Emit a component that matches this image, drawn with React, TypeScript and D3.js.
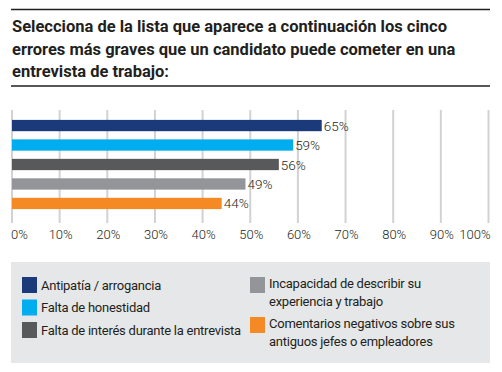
import * as d3 from "d3";
import { useRef, useEffect } from "react";

const categories = [
  "Antipatía / arrogancia",
  "Falta de honestidad",
  "Falta de interés durante la entrevista",
  "Incapacidad de describir su experiencia y trabajo",
  "Comentarios negativos sobre sus antiguos jefes o empleadores",
];
const values = [65, 59, 56, 49, 44];
const colors = ["#1b3a7a", "#00adef", "#58595b", "#939598", "#f58a24"];
const ticks = [0, 10, 20, 30, 40, 50, 60, 70, 80, 90, 100];
const titleLines = [
  "Selecciona de la lista que aparece a continuación los cinco",
  "errores más graves que un candidato puede cometer en una",
  "entrevista de trabajo:",
];
// legend text split into lines, per category
const legendLines = [
  ["Antipatía / arrogancia"],
  ["Falta de honestidad"],
  ["Falta de interés durante la entrevista"],
  ["Incapacidad de describir su", "experiencia y trabajo"],
  ["Comentarios negativos sobre sus", "antiguos jefes o empleadores"],
];

const W = 502;
const H = 372;
const FONT = "Roboto, sans-serif";

export default function App() {
  const gx = useRef<SVGGElement>(null);

  const x = d3.scaleLinear().domain([0, 100]).range([12, 488.5]);
  const y = d3
    .scaleBand()
    .domain(d3.range(values.length).map(String))
    .range([116, 213])
    .paddingInner(0.42)
    .paddingOuter(0.2);

  useEffect(() => {
    const g = d3.select(gx.current);
    g.selectAll("*").remove();
    g.selectAll("line")
      .data(ticks)
      .join("line")
      .attr("x1", (d) => x(d))
      .attr("x2", (d) => x(d))
      .attr("y1", 110)
      .attr("y2", 223)
      .attr("stroke", "#d1d2d4")
      .attr("stroke-width", 2);
    g.selectAll("text")
      .data(ticks)
      .join("text")
      .attr("x", (d) => (d === 0 ? x(d) - 1 : d === 100 ? x(d) + 2 : x(d) + 1))
      .attr("y", 239)
      .attr("text-anchor", (d) => (d === 0 ? "start" : d === 100 ? "end" : "middle"))
      .attr("font-family", FONT)
      .attr("font-weight", 300)
      .attr("font-size", 13)
      .attr("fill", "#231f20")
      .text((d) => d + "%");
  }, []);

  return (
    <svg
      width={W}
      height={H}
      style={{ position: "absolute", left: 0, top: 0, background: "#fff" }}
    >
      <line x1={11} x2={490} y1={9.5} y2={9.5} stroke="#231f20" strokeWidth={1.5} />
      <g fontFamily={FONT} fontWeight="bold" fontSize={16.5} fill="#231f20">
        {titleLines.map((t, i) => (
          <text key={i} x={12} y={32 + i * 22.5}>
            {t}
          </text>
        ))}
      </g>
      <line x1={11} x2={490} y1={86} y2={86} stroke="#231f20" strokeWidth={1.5} />

      <g ref={gx} />

      <g>
        {values.map((v, i) => (
          <g key={i}>
            <rect
              x={x(0)}
              y={y(String(i))}
              width={x(v) - x(0)}
              height={y.bandwidth()}
              fill={colors[i]}
            />
            <text
              x={x(v) + 2}
              y={(y(String(i)) as number) + y.bandwidth() / 2 + 5}
              fontFamily={FONT}
              fontWeight={300}
              fontSize={13.5}
              fill="#231f20"
            >
              {v}%
            </text>
          </g>
        ))}
      </g>

      <rect x={11} y={262} width={479} height={101} fill="#e6e7e8" />
      <g fontFamily={FONT} fontSize={13} letterSpacing={-0.25} fill="#231f20">
        {categories.map((c, i) => {
          const left = i < 3;
          const sx = left ? 22 : 250;
          const sy = left ? 277 + i * 22.5 : i === 3 ? 277 : 317;
          return (
            <g key={c}>
              <rect x={sx} y={sy} width={15} height={16} fill={colors[i]} />
              {legendLines[i].map((t, j) => (
                <text key={j} x={sx + 19} y={sy + 12.5 + (left ? 0 : -2) + j * 18}>
                  {t}
                </text>
              ))}
            </g>
          );
        })}
      </g>
    </svg>
  );
}
